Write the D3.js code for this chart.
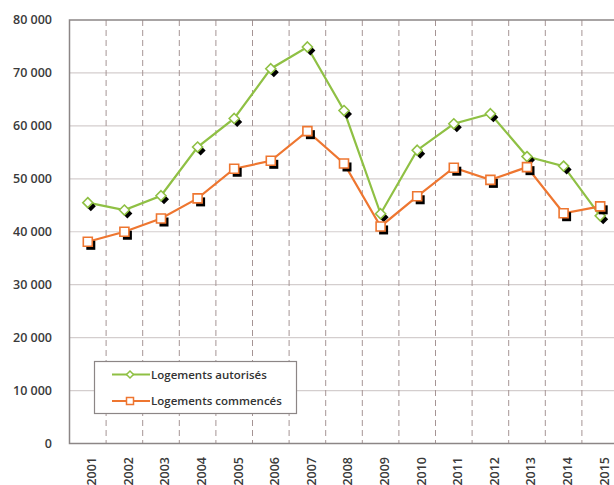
<!DOCTYPE html>
<html>
<head>
<meta charset="utf-8">
<script src="https://cdn.jsdelivr.net/npm/d3@7"></script>
<style>
  html, body { margin: 0; padding: 0; background: #fff; }
  svg { display: block; font-family: 'Open Sans', sans-serif; }
</style>
</head>
<body>
<svg id="chart" width="614" height="485"></svg>
<script>
const years = ['2001', '2002', '2003', '2004', '2005', '2006', '2007', '2008', '2009', '2010', '2011', '2012', '2013', '2014', '2015']
const autorises = [45500, 44100, 46800, 56000, 61400, 70800, 74900, 62900, 43400, 55400, 60400, 62300, 54200, 52400, 43000]
const commences = [38100, 40000, 42500, 46300, 51900, 53400, 59000, 52900, 41000, 46700, 52100, 49800, 52200, 43500, 44800]
const yTicks = [0, 10000, 20000, 30000, 40000, 50000, 60000, 70000, 80000]
const seriesNames = ['Logements autorisés', 'Logements commencés']

const GREEN = '#8fc044'
const ORANGE = '#ee7630'
const svg = d3.select('#chart')

const x = d3.scaleBand().domain(years).range([69.5, 618.5]).padding(0)
const y = d3.scaleLinear().domain([0, 80000]).range([443.5, 20])
const cx = d => x(d) + x.bandwidth() / 2
const fmt = v => d3.format(',')(v).replace(/,/g, ' ')

// horizontal dotted grid
svg.append('g')
  .selectAll('line')
  .data(yTicks.filter(t => t > 0 && t < 80000))
  .enter().append('line')
  .attr('x1', 69.5).attr('x2', 614)
  .attr('y1', d => y(d)).attr('y2', d => y(d))
  .attr('stroke', '#a99c9c').attr('stroke-width', 1.2)
  .attr('stroke-dasharray', '1,1')

// vertical dashed grid at category boundaries
svg.append('g')
  .selectAll('line')
  .data(years.slice(1))
  .enter().append('line')
  .attr('x1', d => x(d)).attr('x2', d => x(d))
  .attr('y1', y(80000)).attr('y2', y(0))
  .attr('stroke', '#a59494').attr('stroke-width', 1)
  .attr('stroke-dasharray', '6,4')

// frame
svg.append('path')
  .attr('d', `M614,${y(80000)}H69.5V${y(0)}H614`)
  .attr('fill', 'none').attr('stroke', '#8c8686').attr('stroke-width', 1.5)

// y labels
svg.append('g')
  .selectAll('text')
  .data(yTicks)
  .enter().append('text')
  .attr('x', 52).attr('y', d => y(d))
  .attr('dy', '0.35em')
  .attr('text-anchor', 'end')
  .attr('font-size', 12.5).attr('font-weight', 600)
  .attr('fill', '#3a3a3a')
  .text(fmt)

// x labels
svg.append('g')
  .selectAll('text')
  .data(years)
  .enter().append('text')
  .attr('transform', d => `translate(${cx(d) + 4},457) rotate(-90)`)
  .attr('dy', '0.35em')
  .attr('text-anchor', 'end')
  .attr('font-size', 12.5).attr('font-weight', 600)
  .attr('fill', '#3a3a3a')
  .text(d => d)

const line = d3.line().x((d, i) => cx(years[i])).y(d => y(d))

const diamond = (r) => `M0,${-r}L${r},0L0,${r}L${-r},0Z`
const square = (s) => `M${-s},${-s}H${s}V${s}H${-s}Z`

function drawSeries(values, color, shape) {
  svg.append('path')
    .datum(values)
    .attr('d', line)
    .attr('fill', 'none')
    .attr('stroke', color)
    .attr('stroke-width', 2.2)
  const g = svg.append('g')
  g.selectAll('path.shadow')
    .data(values)
    .enter().append('path')
    .attr('class', 'shadow')
    .attr('transform', (d, i) => `translate(${cx(years[i]) + 3},${y(d) + 3.5})`)
    .attr('d', shape)
    .attr('fill', '#000')
  g.selectAll('path.mark')
    .data(values)
    .enter().append('path')
    .attr('class', 'mark')
    .attr('transform', (d, i) => `translate(${cx(years[i])},${y(d)})`)
    .attr('d', shape)
    .attr('fill', '#fff')
    .attr('stroke', color)
    .attr('stroke-width', 1.6)
}

drawSeries(autorises, GREEN, diamond(5))
drawSeries(commences, ORANGE, square(4.5))

// legend
const legend = svg.append('g')
legend.append('rect')
  .attr('x', 94.5).attr('y', 361.5)
  .attr('width', 202).attr('height', 52)
  .attr('fill', '#fff')
  .attr('stroke', '#8c8686').attr('stroke-width', 1.2)

const legendItems = [
  { name: seriesNames[0], color: GREEN, shape: diamond(3.5), ly: 374.5 },
  { name: seriesNames[1], color: ORANGE, shape: square(3.5), ly: 401 }
]
legendItems.forEach(item => {
  legend.append('line')
    .attr('x1', 112).attr('x2', 150)
    .attr('y1', item.ly).attr('y2', item.ly)
    .attr('stroke', item.color).attr('stroke-width', 2.2)
  legend.append('path')
    .attr('transform', `translate(130,${item.ly})`)
    .attr('d', item.shape)
    .attr('fill', '#fff')
    .attr('stroke', item.color).attr('stroke-width', 1.5)
  legend.append('text')
    .attr('x', 151).attr('y', item.ly)
    .attr('dy', '0.35em')
    .attr('font-size', 11.5).attr('font-weight', 600)
    .attr('fill', '#333')
    .text(item.name)
})
</script>
</body>
</html>
